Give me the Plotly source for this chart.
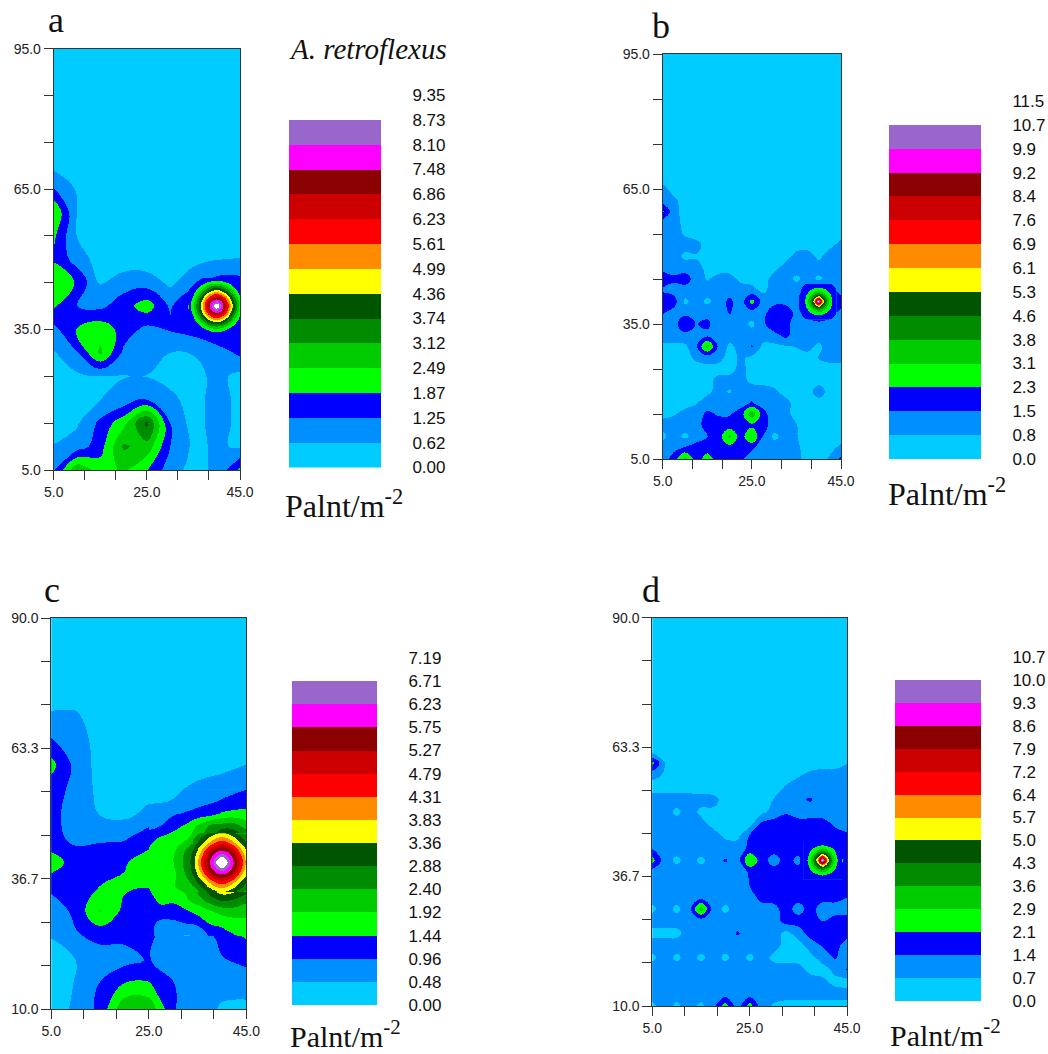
import plotly.graph_objects as go

BAND_COLORS = ["#00CCFF", "#008FFF", "#0000FF", "#00FF00", "#00CC00", "#008C00", "#005500",
               "#FFFF00", "#FF8C00", "#FF0000", "#CC0000", "#8B0000", "#FF00FF", "#9966CC", "#FFFFFF"]

LABELS_A = ["0.00", "0.62", "1.25", "1.87", "2.49", "3.12", "3.74", "4.36", "4.99", "5.61", "6.23", "6.86", "7.48", "8.10", "8.73", "9.35"]
LABELS_B = ["0.0", "0.8", "1.5", "2.3", "3.1", "3.8", "4.6", "5.3", "6.1", "6.9", "7.6", "8.4", "9.2", "9.9", "10.7", "11.5"]
LABELS_C = ["0.00", "0.48", "0.96", "1.44", "1.92", "2.40", "2.88", "3.36", "3.83", "4.31", "4.79", "5.27", "5.75", "6.23", "6.71", "7.19"]
LABELS_D = ["0.0", "0.7", "1.4", "2.1", "2.9", "3.6", "4.3", "5.0", "5.7", "6.4", "7.2", "7.9", "8.6", "9.3", "10.0", "10.7"]

X_COARSE = [5, 10, 15, 20, 25, 30, 35, 40, 45]
X_FINE = [5, 7.5, 10, 12.5, 15, 17.5, 20, 22.5, 25, 27.5, 30, 32.5, 35, 37.5, 40, 42.5, 45]

Y_A = [95, 75, 70, 65, 60, 55, 50, 45, 40, 35, 30, 25, 20, 15, 10, 5]
Z_A = [
    [.2, .2, .2, .2, .2, .2, .2, .2, .2],
    [.2, .2, .2, .2, .2, .2, .2, .2, .2],
    [.45, .3, .15, .15, .15, .15, .15, .15, .15],
    [1.3, .55, .2, .2, .2, .2, .2, .2, .2],
    [2.5, .6, .2, .2, .2, .2, .2, .2, .2],
    [2.0, .6, .2, .2, .2, .2, .2, .2, .2],
    [1.8, .95, .35, .25, .25, .25, .45, .6, .66],
    [2.4, 1.8, .55, .95, .95, .5, 1.0, 1.5, 1.5],
    [1.95, 1.25, 1.1, 1.6, 2.2, 1.15, 2.1, 9.4, 2.4],
    [1.05, 1.9, 2.3, 1.6, 1.05, 1.3, 1.5, 2.0, 1.7],
    [.55, 1.2, 2.6, 1.1, .95, .62, .65, .85, 1.4],
    [.3, .5, .62, .6, .6, .4, .4, .8, .45],
    [.3, .35, .62, .85, 1.3, .8, .35, .9, .45],
    [.35, .55, 1.4, 2.3, 3.9, 1.25, .35, .9, .45],
    [.65, .9, 1.6, 3.2, 2.9, 1.25, .5, .7, .55],
    [1.15, 3.0, 2.2, 2.6, 1.9, .9, .4, .75, 2.0],
]
X_A_PEAK = [34, 35, 36, 37, 38, 39, 40, 41, 42, 43, 44, 45]
Y_A_PEAK = [46, 45, 44, 43, 42, 41, 40, 39, 38, 37, 36, 35, 34]
Z_A_PEAK = [
    [.9, 1.0, 1.1, 1.25, 1.3, 1.3, 1.35, 1.3, 1.3, 1.3, 1.35, 1.4],
    [1.0, 1.15, 1.35, 1.65, 1.9, 2.15, 2.25, 2.15, 1.9, 1.65, 1.45, 1.4],
    [1.15, 1.35, 1.75, 2.25, 2.9, 3.45, 3.6, 3.45, 2.9, 2.25, 1.75, 1.45],
    [1.3, 1.65, 2.25, 3.2, 4.05, 4.65, 5.0, 4.65, 4.05, 3.2, 2.25, 1.65],
    [1.4, 1.9, 2.9, 4.05, 5.2, 6.05, 6.5, 6.05, 5.2, 4.05, 2.9, 1.9],
    [1.5, 2.15, 3.45, 4.65, 6.05, 7.55, 8.25, 7.55, 6.05, 4.65, 3.45, 2.15],
    [1.55, 2.25, 3.6, 5.0, 6.5, 8.25, 9.4, 8.25, 6.5, 5.0, 3.6, 2.25],
    [1.5, 2.15, 3.45, 4.65, 6.05, 7.55, 8.25, 7.55, 6.05, 4.65, 3.45, 2.15],
    [1.45, 1.9, 2.9, 4.05, 5.2, 6.05, 6.5, 6.05, 5.2, 4.05, 2.9, 1.9],
    [1.45, 1.65, 2.25, 3.2, 4.05, 4.65, 5.0, 4.65, 4.05, 3.2, 2.25, 1.65],
    [1.45, 1.45, 1.75, 2.25, 2.9, 3.45, 3.6, 3.45, 2.9, 2.25, 1.75, 1.5],
    [1.45, 1.4, 1.45, 1.65, 1.9, 2.15, 2.25, 2.15, 1.9, 1.65, 1.5, 1.5],
    [1.4, 1.45, 1.45, 1.45, 1.5, 1.55, 1.55, 1.55, 1.5, 1.5, 1.5, 1.5],
]

Y_B = [95, 72.5, 70, 67.5, 65, 62.5, 60, 57.5, 55, 52.5, 50, 47.5, 45, 42.5, 40, 37.5, 35, 32.5, 30, 27.5, 25, 22.5, 20, 17.5, 15, 12.5, 10, 7.5, 5]
Z_B = [
    [.5] * 17,
    [.5] * 17,
    [.5] * 17,
    [.5] * 17,
    [1.0, .5, .5, .5, .5, .5, .5, .5, .5, .5, .5, .5, .5, .5, .5, .5, .5],
    [1.1, .9, .5, .5, .5, .5, .5, .5, .5, .5, .5, .5, .5, .5, .5, .5, .5],
    [2.5, 1.0, .5, .5, .5, .5, .5, .5, .5, .5, .5, .5, .5, .5, .5, .5, .5],
    [1.1, 1.0, .6, .5, .5, .5, .5, .5, .5, .5, .5, .5, .5, .5, .5, .5, .5],
    [1.1, 1.0, .7, .5, .5, .5, .5, .5, .5, .5, .5, .5, .5, .5, .5, .5, .5],
    [1.1, 1.1, 1.0, 1.0, .5, .5, .5, .5, .5, .5, .5, .5, .5, .5, .5, .6, 1.0],
    [1.5, 1.1, .6, .7, .5, .5, .5, .5, .5, .5, .5, .5, 1.0, 1.1, .6, 1.1, 1.1],
    [1.3, 1.2, 1.2, 1.0, .6, .5, .5, .5, .5, .5, .6, 1.0, 1.1, 1.1, 1.1, 1.1, 1.1],
    [2.0, 1.7, 1.9, 1.2, .7, 1.0, 1.0, .6, .5, .5, 1.0, 1.1, .6, 1.1, .6, 1.1, 1.1],
    [1.4, 1.2, 1.2, 1.1, 1.1, 1.1, 1.2, 1.1, 1.0, .6, 1.1, 1.1, 1.2, 1.9, 2.9, 1.9, 1.2],
    [2.1, 1.9, .6, 1.1, .6, 1.1, 1.7, 1.1, 2.6, 1.2, 1.3, 1.3, 1.1, 3.3, 11.5, 3.0, 1.9],
    [1.6, 1.2, 1.3, 1.1, 1.3, 1.1, 1.6, 1.1, 1.2, 1.3, 2.0, 2.0, 1.3, 1.9, 2.8, 1.9, 1.3],
    [1.1, 1.2, 2.2, 1.5, 1.7, 1.1, 1.1, 1.1, .6, 1.3, 2.3, 2.0, .9, 1.1, 1.2, 1.1, 1.1],
    [1.1, 1.1, 1.3, 1.1, 1.35, 1.1, 1.1, 1.1, 1.1, 1.1, 1.2, 1.8, 1.1, 1.1, 1.1, 1.1, 1.1],
    [.6, .6, .6, 1.4, 3.3, 1.4, .6, 1.0, 1.6, .6, .6, .7, .8, 1.0, .6, 1.1, 1.1],
    [.5, .5, .5, .9, 1.1, 1.0, .5, .9, .6, .5, .5, .5, .5, .5, .8, 1.0, 1.0],
    [.5, .5, .5, .5, .5, .5, .5, 1.0, .5, .5, .5, .5, .5, .5, .5, .5, .5],
    [.5, .5, .5, .5, .5, 1.0, 1.0, 1.0, .6, .5, .5, .5, .5, .5, .5, .5, .5],
    [.5, .5, .5, .5, .6, 1.0, .7, 1.1, 1.1, 1.1, .9, .5, .5, .5, 1.1, .5, .5],
    [.5, .5, .5, .7, 1.1, 1.1, 1.1, 1.2, 1.6, 1.1, 1.1, 1.0, .5, .5, .5, .5, .5],
    [.6, .7, 1.0, 1.1, 1.7, 1.45, 1.45, 1.9, 3.6, 1.9, .9, 1.0, .5, .5, .5, .5, .5],
    [1.0, 1.1, 1.1, 1.2, 1.9, 1.9, 1.9, 1.9, 2.1, 1.9, 1.1, 1.0, .8, .5, .5, .5, .5],
    [.6, 1.1, .6, 1.1, 1.5, 1.9, 3.2, 1.9, 3.1, 1.5, .6, 1.0, .8, .5, .5, .5, .5],
    [1.1, 1.3, 1.6, 1.9, 1.9, 1.9, 2.0, 1.9, 1.7, 1.1, 1.1, 1.1, .9, .5, .5, .6, .9],
    [1.1, 1.9, 3.3, 1.9, 2.7, 1.9, 1.9, 1.7, 1.1, 1.1, 1.1, 1.1, 1.0, .5, .5, .85, 1.7],
]
X_BD_PEAK = [36, 37, 38, 39, 40, 41, 42, 43, 44]
Y_BD_PEAK = [44, 43, 42, 41, 40, 39, 38, 37, 36]
Z_B_PEAK = [
    [1.4, 1.5, 1.55, 1.7, 1.75, 1.7, 1.55, 1.5, 1.4],
    [1.5, 1.65, 1.95, 2.2, 2.3, 2.2, 1.95, 1.65, 1.5],
    [1.55, 1.95, 2.5, 3.1, 3.5, 3.1, 2.5, 1.95, 1.55],
    [1.7, 2.2, 3.1, 4.5, 5.9, 4.5, 3.1, 2.2, 1.7],
    [1.75, 2.3, 3.5, 5.9, 11.5, 5.9, 3.5, 2.3, 1.75],
    [1.7, 2.2, 3.1, 4.5, 5.9, 4.5, 3.1, 2.2, 1.7],
    [1.55, 1.95, 2.5, 3.1, 3.5, 3.1, 2.5, 1.95, 1.55],
    [1.5, 1.65, 1.95, 2.2, 2.3, 2.2, 1.95, 1.65, 1.5],
    [1.4, 1.5, 1.55, 1.7, 1.75, 1.7, 1.55, 1.5, 1.4],
]

Y_C = [90, 75, 70, 65, 60, 55, 50, 45, 40, 35, 30, 25, 20, 15, 10]
Z_C = [
    [.2, .2, .2, .2, .2, .2, .2, .2, .2],
    [.2, .2, .2, .2, .2, .2, .2, .2, .2],
    [.55, .55, .2, .2, .2, .2, .2, .2, .2],
    [1.0, .7, .3, .2, .2, .2, .2, .2, .2],
    [1.6, .8, .3, .25, .25, .25, .25, .3, .48],
    [1.2, .8, .35, .3, .3, .4, .6, .8, .95],
    [1.1, .75, .45, .35, .6, 1.0, 1.5, 1.95, 1.9],
    [1.1, .85, .9, .9, 1.25, 1.5, 2.1, 3.6, 2.9],
    [1.7, 1.2, 1.2, 1.4, 1.65, 2.2, 3.4, 7.5, 4.0],
    [1.1, 1.2, 1.45, 1.5, 1.45, 1.95, 2.4, 3.6, 2.9],
    [.6, 1.1, 1.95, 1.3, 1.2, 1.1, 1.5, 2.1, 1.95],
    [.5, .9, 1.1, 1.05, 1.1, .6, .5, 1.2, 1.5],
    [.3, .48, .7, .8, 1.0, .6, .65, .9, 1.1],
    [.3, .5, 1.0, 1.5, 1.5, 1.0, .6, .55, .6],
    [.3, .55, 1.1, 2.3, 2.3, 1.0, .6, .45, .4],
]
X_C_MID = [25, 27.5, 30, 32.5, 35, 37.5, 40, 42.5, 45]
Y_C_MID = [55, 52.5, 50, 47.5, 45, 42.5, 40, 37.5, 35, 32.5, 30, 27.5, 25]
Z_C_MID = [
    [.3, .35, .4, .5, .6, .7, .8, .9, .95],
    [.45, .45, .5, .7, .75, .9, 1.0, 1.05, 1.2],
    [.6, .7, .9, 1.0, 1.15, 1.2, 1.5, 1.6, 1.6],
    [.8, .96, 1.25, 1.5, 1.95, 2.45, 2.6, 2.6, 2.2],
    [1.25, 1.5, 1.65, 1.8, 2.2, 2.85, 3.6, 3.5, 2.85],
    [1.5, 1.65, 1.8, 2.4, 3.2, 4.4, 5.9, 4.9, 3.9],
    [1.65, 1.75, 1.9, 2.5, 3.4, 4.9, 7.5, 5.5, 4.2],
    [1.55, 1.7, 1.75, 2.4, 3.2, 4.4, 5.7, 4.9, 3.9],
    [1.45, 1.6, 1.9, 2.0, 2.6, 3.3, 3.9, 3.7, 3.2],
    [1.3, 1.55, 1.55, 1.85, 2.2, 2.7, 3.0, 2.9, 2.6],
    [1.2, 1.3, 1.2, 1.35, 1.6, 1.85, 2.1, 2.15, 2.0],
    [1.15, .8, .85, .95, 1.05, 1.45, 1.55, 1.7, 1.85],
    [1.1, .75, .6, .45, .5, 1.0, 1.2, 1.4, 1.5],
]
X_C_PEAK = [34, 35, 36, 37, 38, 39, 40, 41, 42, 43, 44, 45]
Y_C_PEAK = [46, 45, 44, 43, 42, 41, 40, 39, 38, 37, 36, 35, 34]
Z_C_PEAK = [
    [1.95, 2.25, 2.55, 2.85, 3.1, 3.3, 3.4, 3.3, 3.1, 2.85, 2.55, 2.25],
    [2.25, 2.65, 3.0, 3.3, 3.6, 3.85, 3.95, 3.85, 3.6, 3.3, 3.0, 2.65],
    [2.5, 2.9, 3.25, 3.7, 4.1, 4.45, 4.6, 4.45, 4.1, 3.7, 3.25, 2.9],
    [2.75, 3.25, 3.7, 4.31, 4.9, 5.2, 5.4, 5.2, 4.9, 4.31, 3.7, 3.25],
    [2.95, 3.45, 4.1, 4.9, 5.5, 5.85, 6.0, 5.85, 5.5, 4.9, 4.1, 3.45],
    [3.05, 3.65, 4.45, 5.2, 5.85, 6.4, 6.9, 6.4, 5.85, 5.2, 4.45, 3.65],
    [3.1, 3.7, 4.6, 5.4, 6.0, 6.9, 7.5, 6.9, 6.0, 5.4, 4.6, 3.7],
    [3.05, 3.65, 4.45, 5.2, 5.85, 6.4, 6.9, 6.4, 5.85, 5.2, 4.45, 3.65],
    [2.95, 3.45, 4.1, 4.9, 5.5, 5.85, 6.0, 5.85, 5.5, 4.9, 4.1, 3.45],
    [2.75, 3.25, 3.7, 4.31, 4.9, 5.2, 5.4, 5.2, 4.9, 4.31, 3.7, 3.25],
    [2.5, 2.9, 3.25, 3.7, 4.1, 4.45, 4.6, 4.45, 4.1, 3.7, 3.25, 2.9],
    [2.25, 2.65, 3.0, 3.3, 3.6, 3.85, 3.95, 3.85, 3.6, 3.3, 3.0, 2.65],
    [1.95, 2.25, 2.55, 2.85, 3.1, 3.3, 3.4, 3.3, 3.1, 2.85, 2.55, 2.25],
]

Y_D = [90, 67.5, 65, 62.5, 60, 57.5, 55, 52.5, 50, 47.5, 45, 42.5, 40, 37.5, 35, 32.5, 30, 27.5, 25, 22.5, 20, 17.5, 15, 12.5, 10]
Z_D = [
    [.4] * 17,
    [.4] * 17,
    [.4] * 17,
    [.4] * 17,
    [2.4, .75, .4, .4, .4, .4, .4, .4, .4, .4, .4, .4, .4, .4, .4, .4, .7],
    [.9, .65, .4, .4, .4, .4, .4, .4, .4, .4, .4, .4, .65, .9, 1.05, 1.05, 1.05],
    [.4, .4, .4, .4, .4, .4, .4, .4, .4, .4, .4, .8, 1.05, 1.05, 1.05, 1.05, 1.05],
    [1.05, 1.05, 1.05, 1.05, 1.0, .9, .5, .4, .4, .4, .75, 1.05, 1.3, 1.5, 1.05, 1.05, 1.05],
    [1.05, 1.05, .55, 1.05, .55, .6, .4, .4, .4, .5, 1.0, 1.35, 1.05, 1.05, 1.05, 1.05, 1.05],
    [1.05, 1.05, 1.05, 1.05, .95, .5, .4, .4, .45, 1.6, 1.75, 1.75, 1.75, 1.75, 1.75, 1.3, 1.05],
    [1.05, 1.05, 1.05, 1.05, 1.05, 1.05, .6, .55, 1.5, 1.75, 1.75, 1.75, 1.75, 1.75, 1.75, 1.75, 1.6],
    [1.4, 1.05, 1.05, 1.05, 1.05, 1.05, 1.05, 1.05, 1.6, 1.75, 1.75, 1.75, 1.75, 1.75, 2.6, 1.75, 1.75],
    [2.4, 1.05, .55, 1.05, .55, 1.05, 1.5, 1.05, 2.9, 1.75, 1.1, 1.75, 1.2, 3.0, 10.7, 3.0, 1.75],
    [1.05, 1.05, 1.05, 1.05, 1.05, 1.05, 1.05, 1.05, 1.5, 1.75, 1.75, 1.75, 1.75, 1.75, 2.5, 1.75, 1.75],
    [1.05, 1.05, 1.05, 1.05, 1.05, 1.05, 1.05, 1.05, 1.45, 1.75, 1.75, 1.75, 1.75, 1.75, 1.75, 1.75, 1.75],
    [1.05, 1.05, 1.05, 1.05, 1.05, 1.05, 1.05, 1.05, 1.05, 1.75, 1.75, 1.75, 1.75, 1.75, 1.75, 1.75, 1.45],
    [.55, 1.05, .55, 1.05, 3.2, 1.05, .55, 1.05, 1.1, 1.05, 1.2, 1.75, 1.1, 1.75, 1.05, 1.05, 1.05],
    [1.05, 1.05, 1.05, 1.05, 1.05, 1.05, 1.05, 1.05, 1.05, 1.05, 1.05, 1.75, 1.75, 1.75, 1.4, 1.75, 1.75],
    [.5, .5, .5, 1.05, .8, 1.05, 1.05, 1.5, 1.1, 1.05, 1.05, .5, 1.05, 1.75, 1.75, 1.75, 1.75],
    [1.05, 1.05, 1.05, 1.05, 1.05, 1.05, 1.05, 1.05, 1.05, 1.05, 1.05, .4, .4, 1.05, 1.5, 1.75, 1.05],
    [.55, 1.05, .55, 1.05, .55, 1.05, .55, 1.05, .55, 1.05, .5, .4, .4, .5, 1.05, 1.5, 1.05],
    [1.05, 1.05, 1.05, 1.05, 1.05, 1.05, 1.05, 1.05, 1.05, 1.05, 1.05, 1.05, 1.0, .5, .4, .9, 1.45],
    [1.05, 1.05, 1.05, 1.05, 1.05, 1.05, 1.05, 1.05, 1.05, 1.05, 1.05, 1.05, 1.05, 1.05, .9, .5, .4],
    [1.05] * 17,
    [.55, 1.05, .55, 1.05, .55, 1.2, 2.5, 1.05, 2.5, 1.05, .6, .4, .4, .4, .4, .4, .4],
]
Z_D_PEAK = [
    [1.75, 1.75, 1.8, 1.8, 1.8, 1.8, 1.8, 1.75, 1.75],
    [1.75, 1.8, 1.9, 2.05, 2.2, 2.05, 1.9, 1.8, 1.75],
    [1.8, 1.9, 2.35, 3.0, 3.4, 3.0, 2.35, 1.9, 1.8],
    [1.8, 2.05, 3.0, 4.5, 5.8, 4.5, 3.0, 2.05, 1.8],
    [1.8, 2.2, 3.4, 5.8, 10.7, 5.8, 3.4, 2.2, 1.8],
    [1.8, 2.05, 3.0, 4.5, 5.8, 4.5, 3.0, 2.05, 1.8],
    [1.8, 1.9, 2.35, 3.0, 3.4, 3.0, 2.35, 1.9, 1.8],
    [1.75, 1.8, 1.9, 2.05, 2.2, 2.05, 1.9, 1.8, 1.75],
    [1.75, 1.75, 1.8, 1.8, 1.8, 1.8, 1.8, 1.75, 1.75],
]

TICKS_X = [5, 25, 45]
TICK_TEXT_X = ["5.0", "25.0", "45.0"]
MINOR_X = [11.67, 18.33, 31.67, 38.33]
TICKS_Y_AB = [5, 35, 65, 95]
TICK_TEXT_Y_AB = ["5.0", "35.0", "65.0", "95.0"]
MINOR_Y_AB = [15, 25, 45, 55, 75, 85]
TICKS_Y_CD = [10, 36.67, 63.33, 90]
TICK_TEXT_Y_CD = ["10.0", "36.7", "63.3", "90.0"]
MINOR_Y_CD = [18.89, 27.78, 45.56, 54.44, 72.22, 81.11]

PANELS = [
    dict(layers=[(X_COARSE, Y_A, Z_A), (X_A_PEAK, Y_A_PEAK, Z_A_PEAK)], top=9.35, labels=LABELS_A,
         box=(53.7, 240, 48.7, 470), yr=(5, 95), yt=TICKS_Y_AB, ytt=TICK_TEXT_Y_AB, ym=MINOR_Y_AB, bar=(289, 381, 95, 467.5)),
    dict(layers=[(X_FINE, Y_B, Z_B), (X_BD_PEAK, Y_BD_PEAK, Z_B_PEAK)], top=11.5, labels=LABELS_B,
         box=(662.7, 841, 54, 459), yr=(5, 95), yt=TICKS_Y_AB, ytt=TICK_TEXT_Y_AB, ym=MINOR_Y_AB, bar=(889, 981, 101, 459)),
    dict(layers=[(X_COARSE, Y_C, Z_C), (X_C_MID, Y_C_MID, Z_C_MID), (X_C_PEAK, Y_C_PEAK, Z_C_PEAK)], top=7.19, labels=LABELS_C,
         box=(51.3, 246.3, 618, 1009.3), yr=(10, 90), yt=TICKS_Y_CD, ytt=TICK_TEXT_Y_CD, ym=MINOR_Y_CD, bar=(292, 377, 658, 1005)),
    dict(layers=[(X_FINE, Y_D, Z_D), (X_BD_PEAK, Y_BD_PEAK, Z_D_PEAK)], top=10.7, labels=LABELS_D,
         box=(652.3, 847, 617.7, 1006), yr=(10, 90), yt=TICKS_Y_CD, ytt=TICK_TEXT_Y_CD, ym=MINOR_Y_CD, bar=(895, 981, 657, 1001)),
]

W, H = 1048, 1054
AXIS = "#333333"
fig = go.Figure()
layout = dict(width=W, height=H, autosize=False, margin=dict(l=0, r=0, t=0, b=0),
              paper_bgcolor="white", plot_bgcolor="white", barmode="stack", showlegend=False)


def dx(a, b):
    return [a / W, b / W]


def dy(top, bottom):
    return [1 - bottom / H, 1 - top / H]


def name(prefix, n):
    return prefix if n == 1 else f"{prefix}{n}"


for i, p in enumerate(PANELS):
    ax = 2 * i + 1
    step = p["top"] / 15
    scale = [[k / 14, c] for k, c in enumerate(BAND_COLORS)]
    for lx_vals, ly_vals, lz_vals in p["layers"]:
        fig.add_trace(go.Contour(
            x=lx_vals, y=ly_vals[::-1], z=lz_vals[::-1], xaxis=name("x", ax), yaxis=name("y", ax),
            colorscale=scale, showscale=False, hoverinfo="skip",
            contours=dict(coloring="fill", start=step, end=14 * step + 1e-3, size=step, showlines=True),
            line=dict(width=0, smoothing=1.2),
        ))
    x0, x1, y0, y1 = p["box"]
    common = dict(showgrid=False, zeroline=False, showline=True, linecolor=AXIS, linewidth=1, mirror=True,
                  ticks="outside", tickcolor=AXIS, ticklen=9, tickwidth=1, automargin=False,
                  tickfont=dict(family="Liberation Sans", size=14, color="#222222"), tickmode="array")
    minor = dict(ticks="outside", ticklen=9, tickcolor=AXIS, tickwidth=1, showgrid=False, tickmode="array")
    layout[name("xaxis", ax)] = dict(domain=dx(x0, x1), range=[5, 45], anchor=name("y", ax),
                                     tickvals=TICKS_X, ticktext=TICK_TEXT_X,
                                     minor=dict(tickvals=MINOR_X, **minor), **common)
    layout[name("yaxis", ax)] = dict(domain=dy(y0, y1), range=list(p["yr"]), anchor=name("x", ax),
                                     tickvals=p["yt"], ticktext=p["ytt"],
                                     minor=dict(tickvals=p["ym"], **minor), **common)

    lx = ax + 1
    for color in BAND_COLORS:
        fig.add_trace(go.Bar(x=[0], y=[1], width=1, marker=dict(color=color, line=dict(width=0)),
                             xaxis=f"x{lx}", yaxis=f"y{lx}", hoverinfo="skip"))
    bx0, bx1, by0, by1 = p["bar"]
    layout[f"xaxis{lx}"] = dict(domain=dx(bx0, bx1), range=[-0.5, 0.5], anchor=f"y{lx}", visible=False, automargin=False)
    layout[f"yaxis{lx}"] = dict(domain=dy(by0, by1), range=[0, 15], anchor=f"x{lx}", side="right", automargin=False,
                                showgrid=False, zeroline=False, showline=False, tickmode="array",
                                tickvals=list(range(16)), ticktext=p["labels"], ticks="outside",
                                ticklen=27, tickcolor="rgba(0,0,0,0)",
                                tickfont=dict(family="Liberation Sans", size=17, color="#111111"))

ANNOTATIONS = [
    ("a", 46, 20, 36), ("b", 650, 26, 36), ("c", 42, 590, 36), ("d", 640, 590, 36),
    ("Palnt/m<sup>-2</sup>", 283, 504, 32), ("Palnt/m<sup>-2</sup>", 886, 492, 32),
    ("Palnt/m<sup>-2</sup>", 288, 1034, 30), ("Palnt/m<sup>-2</sup>", 888, 1033, 30),
    ("<i>A. retroflexus</i>", 287, 49, 29),
]
layout["annotations"] = [
    dict(text=t, x=x / W, y=1 - y / H, xref="paper", yref="paper", xanchor="left", yanchor="middle",
         showarrow=False, font=dict(family="Liberation Serif", size=s, color="#111111"))
    for t, x, y, s in ANNOTATIONS
]
fig.update_layout(**layout)
CRISP = ("document.body.style.margin='0';"
         "var crisp=function(){document.querySelectorAll('.contour path').forEach(function(p){p.style.shapeRendering='crispEdges';});};"
         "crisp();setTimeout(crisp,50);")
fig.write_html("out.html", post_script=CRISP, config=dict(displayModeBar=False))
